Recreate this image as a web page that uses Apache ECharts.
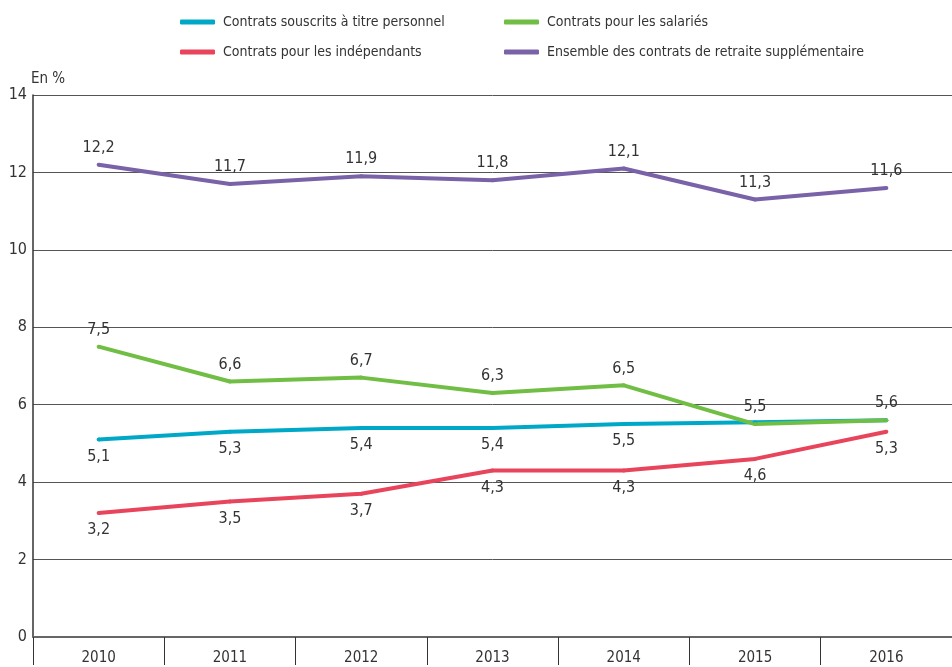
<!DOCTYPE html>
<html><head><meta charset="utf-8">
<script src="https://cdn.jsdelivr.net/npm/echarts@6/dist/echarts.min.js"></script>
<style>html,body{margin:0;padding:0;background:#fff}#c{width:952px;height:667px}</style>
</head><body><div id="c"></div>
<script>
const years = ['2010','2011','2012','2013','2014','2015','2016'];
const personnel = [5.1, 5.3, 5.4, 5.4, 5.5, 5.55, 5.6];
const personnelLabelled = [true, true, true, true, true, false, false];
const salaries = [7.5, 6.6, 6.7, 6.3, 6.5, 5.5, 5.6];
const independants = [3.2, 3.5, 3.7, 4.3, 4.3, 4.6, 5.3];
const ensemble = [12.2, 11.7, 11.9, 11.8, 12.1, 11.3, 11.6];
const names = ['Contrats souscrits à titre personnel','Contrats pour les salariés','Contrats pour les indépendants','Ensemble des contrats de retraite supplémentaire'];

const FONT = '"Liberation Sans Narrow","DejaVu Sans Condensed","Liberation Sans",sans-serif';
const fmt = v => String(v).replace('.', ',');
function mk(name, data, color, pos, showArr) {
  return {
    name, type: 'line',
    data: data.map((v,i)=>({value:v, label:{show: showArr ? showArr[i] : true}})),
    symbol: 'circle', symbolSize: 4, showSymbol: true,
    lineStyle: {width: 4, color}, itemStyle: {color},
    label: {show: true, position: pos, distance: 7, fontFamily: FONT, fontSize: 16, color: '#333',
      formatter: p => fmt(p.value)},
    emphasis: {disabled: true},
    z: 3
  };
}
const legendText = {fontFamily: FONT, fontSize: 14, color: '#333', padding: [0,0,0,3]};
const chart = echarts.init(document.getElementById('c'));
chart.setOption({
  animation: false,
  textStyle: {fontFamily: FONT},
  grid: {left: 33, top: 95, height: 542, width: 922},
  legend: [
    {orient: 'vertical', left: 175, top: 10, itemGap: 16, itemWidth: 35, itemHeight: 5, icon: 'roundRect',
     data: [names[0], names[2]], textStyle: legendText},
    {orient: 'vertical', left: 499, top: 10, itemGap: 16, itemWidth: 35, itemHeight: 5, icon: 'roundRect',
     data: [names[1], names[3]], textStyle: legendText}
  ],
  xAxis: {
    type: 'category', data: years, boundaryGap: true,
    axisLine: {lineStyle: {color: '#666', width: 2}},
    axisTick: {show: true, interval: 0, length: 28, inside: false, lineStyle: {color: '#333', width: 1}},
    axisLabel: {fontFamily: FONT, fontSize: 15, color: '#333', margin: 14}
  },
  yAxis: {
    type: 'value', min: 0, max: 14, interval: 2, name: 'En %',
    nameLocation: 'end', nameGap: 8, nameTextStyle: {fontFamily: FONT, fontSize: 15, color: '#333', align: 'left', padding: [0,0,0,-2]},
    axisLine: {show: true, lineStyle: {color: '#333', width: 1.5}},
    axisTick: {show: false},
    axisLabel: {fontFamily: FONT, fontSize: 16, color: '#333', margin: 6},
    splitLine: {lineStyle: {color: '#555', width: 1}}
  },
  series: [
    mk(names[0], personnel, '#00a8c8', 'bottom', personnelLabelled),
    mk(names[1], salaries, '#70be44', 'top'),
    mk(names[2], independants, '#e8455c', 'bottom'),
    mk(names[3], ensemble, '#7a62a8', 'top')
  ]
});
</script></body></html>
